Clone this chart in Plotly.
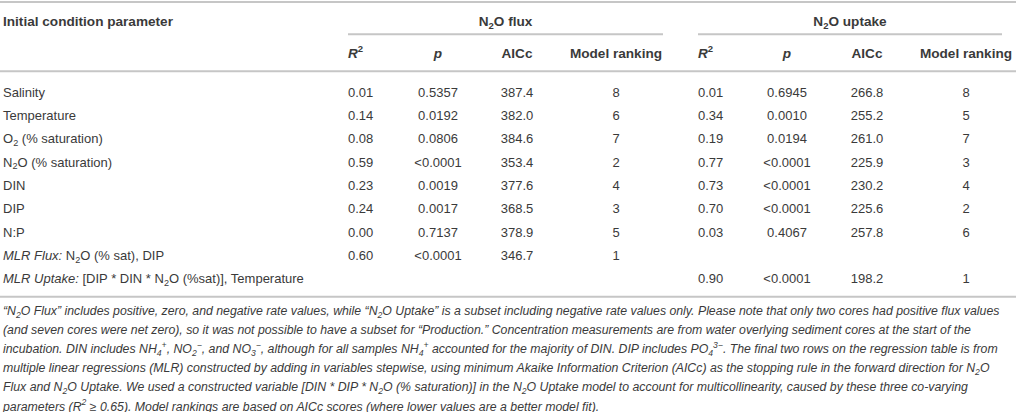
import plotly.graph_objects as go

# ---------------- data ----------------
params = [
    "Salinity",
    "Temperature",
    "O<sub>2</sub> (% saturation)",
    "N<sub>2</sub>O (% saturation)",
    "DIN",
    "DIP",
    "N:P",
    "<i>MLR Flux:</i> N<sub>2</sub>O (% sat), DIP",
    "<i>MLR Uptake:</i> [DIP * DIN * N<sub>2</sub>O (%sat)], Temperature",
]
flux_r2 = [0.01, 0.14, 0.08, 0.59, 0.23, 0.24, 0.00, 0.60, None]
flux_p = ["0.5357", "0.0192", "0.0806", "<0.0001", "0.0019", "0.0017", "0.7137", "<0.0001", None]
flux_aicc = [387.4, 382.0, 384.6, 353.4, 377.6, 368.5, 378.9, 346.7, None]
flux_rank = [8, 6, 7, 2, 4, 3, 5, 1, None]

uptake_r2 = [0.01, 0.34, 0.19, 0.77, 0.73, 0.70, 0.03, None, 0.90]
uptake_p = ["0.6945", "0.0010", "0.0194", "<0.0001", "<0.0001", "<0.0001", "0.4067", None, "<0.0001"]
uptake_aicc = [266.8, 255.2, 261.0, 225.9, 230.2, 225.6, 257.8, None, 198.2]
uptake_rank = [8, 5, 7, 3, 4, 2, 6, None, 1]

group_titles = ["N<sub>2</sub>O flux", "N<sub>2</sub>O uptake"]
col_headers = ["<i>R</i><sup>2</sup>", "<i>p</i>", "AICc", "Model ranking"]
first_header = "Initial condition parameter"

caption_lines = [
    "“N<sub>2</sub>O Flux” includes positive, zero, and negative rate values, while “N<sub>2</sub>O Uptake” is a subset including negative rate values only. Please note that only two cores had positive flux values",
    "(and seven cores were net zero), so it was not possible to have a subset for “Production.” Concentration measurements are from water overlying sediment cores at the start of the",
    "incubation. DIN includes NH<sub>4</sub><sup>+</sup>, NO<sub>2</sub><sup>−</sup>, and NO<sub>3</sub><sup>−</sup>, although for all samples NH<sub>4</sub><sup>+</sup> accounted for the majority of DIN. DIP includes PO<sub>4</sub><sup>3−</sup>. The final two rows on the regression table is from",
    "multiple linear regressions (MLR) constructed by adding in variables stepwise, using minimum Akaike Information Criterion (AICc) as the stopping rule in the forward direction for N<sub>2</sub>O",
    "Flux and N<sub>2</sub>O Uptake. We used a constructed variable [DIN * DIP * N<sub>2</sub>O (% saturation)] in the N<sub>2</sub>O Uptake model to account for multicollinearity, caused by these three co-varying",
    "parameters (<i>R</i><sup>2</sup> ≥ 0.65). Model rankings are based on AICc scores (where lower values are a better model fit).",
]

# ---------------- layout constants ----------------
W, H = 1016, 412
FONT = "Liberation Sans, Arial, Helvetica, sans-serif"
TXT = "#3a3a3a"
LINE = "#c6c6c6"
FS = 13
HFS = 13.6
CAP_FS = 12.3

row_y0, row_dy = 93.5, 23.3
row_y = [row_y0 + i * row_dy for i in range(len(params))]
hdr1_y, hdr2_y = 22.5, 54.5

flux_x = {"r2": 348, "p": 438, "aicc": 517, "rank": 616}
upt_x = {"r2": 698, "p": 787, "aicc": 867, "rank": 966}


def esc(s):
    return s.replace("<0", "&lt;0")


fig = go.Figure()


def text_trace(xs, ys, texts, pos, size=FS, color=TXT):
    pts = [(x, y, t) for x, y, t in zip(xs, ys, texts) if t not in (None, "")]
    fig.add_trace(go.Scatter(
        x=[p[0] for p in pts], y=[p[1] for p in pts], text=[p[2] for p in pts],
        mode="text", textposition=pos,
        textfont=dict(family=FONT, size=size, color=color),
        hoverinfo="skip", showlegend=False, cliponaxis=False,
    ))


def col(vals, f):
    return [None if v is None else f(v) for v in vals]


# first column
text_trace([3] * len(params), row_y, params, "middle right")
text_trace([3], [hdr1_y], [f"<b>{first_header}</b>"], "middle right", size=HFS)

for cols, r2, p, aicc, rank, title, (l, r) in [
    (flux_x, flux_r2, flux_p, flux_aicc, flux_rank, group_titles[0], (348, 663)),
    (upt_x, uptake_r2, uptake_p, uptake_aicc, uptake_rank, group_titles[1], (698, 1002)),
]:
    n = len(params)
    text_trace([cols["r2"]] * n, row_y, col(r2, lambda v: f"{v:.2f}"), "middle right")
    text_trace([cols["p"]] * n, row_y, col(p, esc), "middle center")
    text_trace([cols["aicc"]] * n, row_y, col(aicc, lambda v: f"{v:.1f}"), "middle center")
    text_trace([cols["rank"]] * n, row_y, col(rank, str), "middle center")
    # headers
    text_trace([cols["r2"]], [hdr2_y], [f"<b>{col_headers[0]}</b>"], "middle right", size=HFS)
    text_trace([cols["p"], cols["aicc"], cols["rank"]], [hdr2_y] * 3,
               [f"<b>{h}</b>" for h in col_headers[1:]], "middle center", size=HFS)
    text_trace([(l + r) / 2], [hdr1_y], [f"<b>{title}</b>"], "middle center", size=HFS)
    fig.add_shape(type="line", x0=l, x1=r, y0=34.3, y1=34.3, xref="x", yref="y",
                  line=dict(color=LINE, width=2))

# horizontal rules
for yy in [2, 71.3, 296.8]:
    fig.add_shape(type="line", x0=0, x1=W, y0=yy, y1=yy, xref="x", yref="y",
                  line=dict(color=LINE, width=2))

# caption
cap_y0, cap_dy = 312, 19.1
text_trace([3] * len(caption_lines), [cap_y0 + i * cap_dy for i in range(len(caption_lines))],
           [f"<i>{c}</i>" for c in caption_lines], "middle right", size=CAP_FS)

fig.update_layout(
    width=W, height=H,
    margin=dict(l=0, r=0, t=0, b=0),
    paper_bgcolor="white", plot_bgcolor="white",
    xaxis=dict(range=[0, W], visible=False, fixedrange=True),
    yaxis=dict(range=[H, 0], visible=False, fixedrange=True),
)

fig.write_html(
    "out.html",
    config={"displayModeBar": False},
    post_script="document.body.style.margin='0';document.body.style.overflow='hidden';",
)
